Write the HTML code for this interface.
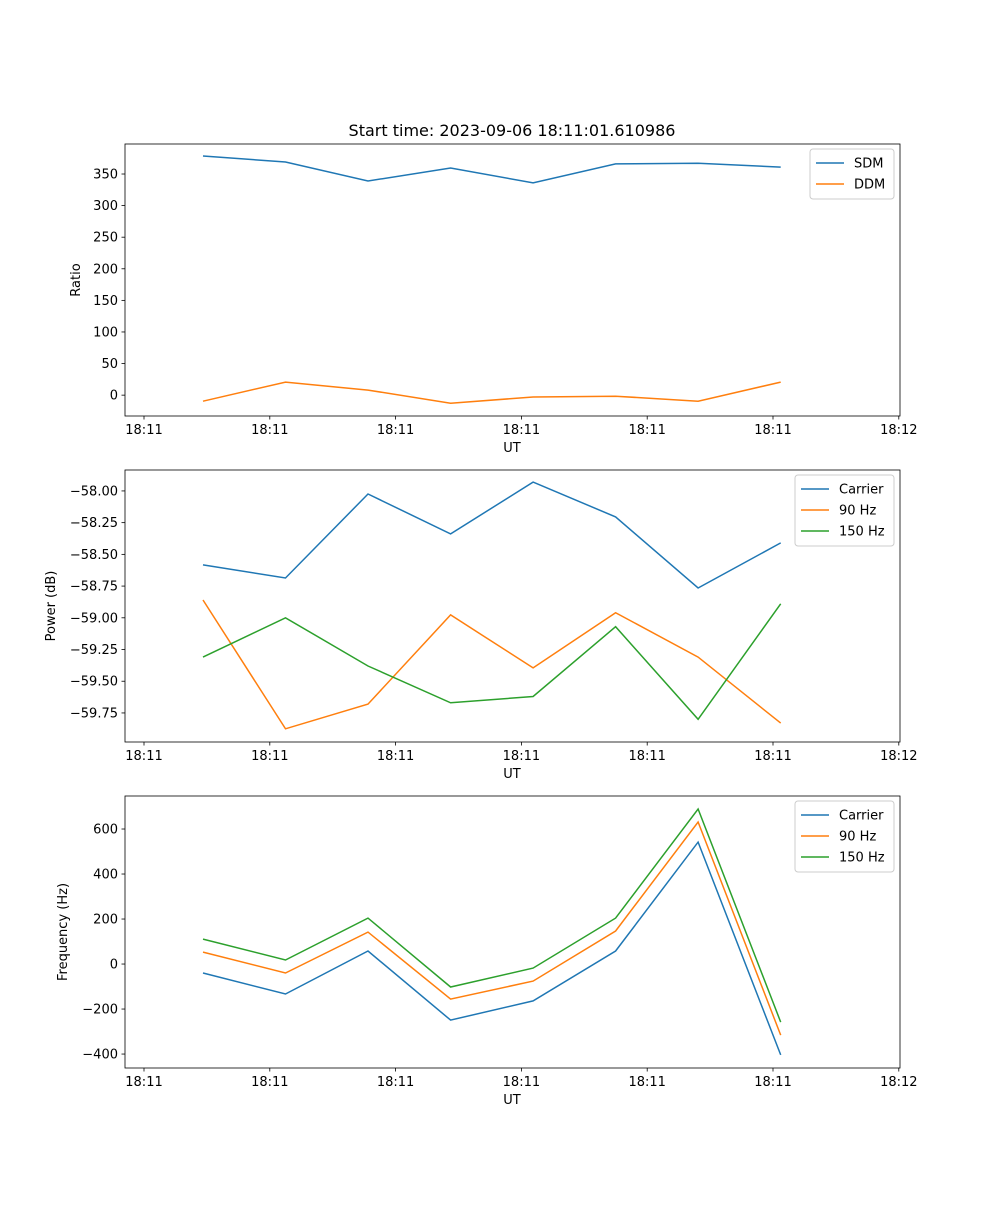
<!DOCTYPE html>
<html><head><meta charset="utf-8"><style>
body{margin:0;background:#fff;}
svg text{font-family:"DejaVu Sans","Liberation Sans",sans-serif;fill:#000;}
</style></head><body>
<svg id="fig" width="1000" height="1200" xmlns="http://www.w3.org/2000/svg"></svg>
<script>
const xTickVals=[0,10,20,30,40,50,60];
const xTickLabels=["18:11","18:11","18:11","18:11","18:11","18:11","18:12"];
const times=[4.69,11.25,17.81,24.37,30.93,37.49,44.05,50.61];
const sdm=[378.5,369,339,359.5,336,366,367,361];
const ddm=[-9.5,20.6,8,-12.7,-3,-1.6,-9.5,20.6];
const powCarrier=[-58.583,-58.686,-58.024,-58.339,-57.93,-58.205,-58.765,-58.41];
const pow90=[-58.86,-59.875,-59.68,-58.977,-59.395,-58.96,-59.31,-59.83];
const pow150=[-59.31,-59.0,-59.38,-59.67,-59.62,-59.07,-59.8,-58.89];
const freqCarrier=[-40,-133,58,-249,-164,58,542,-404];
const freq90=[53,-40,142,-156,-76,147,631,-316];
const freq150=[111,18,204,-102,-18,204,689,-258];
const ticks1=[0,50,100,150,200,250,300,350];
const ticks2=[-58.0,-58.25,-58.5,-58.75,-59.0,-59.25,-59.5,-59.75];
const ticks3=[-400,-200,0,200,400,600];
const C=["#1f77b4","#ff7f0e","#2ca02c"];
const svg=document.getElementById('fig');
const NS="http://www.w3.org/2000/svg";
function mk(tag,attrs,parent){const e=document.createElementNS(NS,tag);for(const k in attrs)e.setAttribute(k,attrs[k]);(parent||svg).appendChild(e);return e;}
const X0=125,X1=900;
function xs(t){return 144+(t/10)*125.8;}
function panel(name,top,bot,ymin,ymax,yt,yfmt,ylabel,series,labels,legW){
  const g=mk('g',{});
  
  
  const ys=v=>bot-(v-ymin)/(ymax-ymin)*(bot-top);
  series.forEach((s,i)=>{
    const pts=s.map((v,j)=>xs(times[j]).toFixed(1)+','+ys(v).toFixed(1)).join(' ');
    const p=mk('polyline',{points:pts,fill:'none',stroke:C[i],'stroke-width':1.5},g);
    
    
  });
  mk('rect',{x:X0,y:top,width:X1-X0,height:bot-top,fill:'none',stroke:'#000','stroke-width':0.8},g);
  xTickVals.forEach((v,i)=>{const x=xs(v);
    mk('line',{x1:x,x2:x,y1:bot,y2:bot+3.5,stroke:'#000','stroke-width':0.8},g);
    const t=mk('text',{x:x,y:bot+18,'text-anchor':'middle','font-size':13},g);t.textContent=xTickLabels[i];
    
    });
  yt.forEach(v=>{const y=ys(v);
    mk('line',{x1:X0-3.5,x2:X0,y1:y,y2:y,stroke:'#000','stroke-width':0.8},g);
    const t=mk('text',{x:X0-7,y:y+4.5,'text-anchor':'end','font-size':13},g);t.textContent=yfmt(v);
    
    });
  const xl=mk('text',{x:512,y:bot+36,'text-anchor':'middle','font-size':13},g);xl.textContent='UT';
  
  
  const cy=(top+bot)/2;
  const yl=mk('text',{x:0,y:0,'text-anchor':'middle','font-size':13,transform:`translate(${name==='ratio-panel'?80:name==='power-panel'?55:67},${cy}) rotate(-90)`},g);yl.textContent=ylabel;
  
  
  const lx=X1-6-legW, ly=top+5, lh=8+21*labels.length;
  const lg=mk('g',{},g);
  
  
  mk('rect',{x:lx,y:ly,width:legW,height:lh,rx:3,fill:'#fff','fill-opacity':0.8,stroke:'#ccc'},lg);
  labels.forEach((l,i)=>{const yy=ly+14+21*i;
    mk('line',{x1:lx+6,x2:lx+34,y1:yy,y2:yy,stroke:C[i],'stroke-width':1.5},lg);
    const t=mk('text',{x:lx+44,y:yy+4.5,'font-size':13},lg);t.textContent=l;
    
    });
}
const title=mk('text',{x:512,y:136,'text-anchor':'middle','font-size':16});
title.textContent='Start time: 2023-09-06 18:11:01.610986';


panel('ratio-panel',144,416,-33,397.5,ticks1,v=>String(v),'Ratio',[sdm,ddm],['SDM','DDM'],84);
panel('power-panel',470,742,-59.979,-57.835,ticks2,v=>'\u2212'+Math.abs(v).toFixed(2),'Power (dB)',[powCarrier,pow90,pow150],['Carrier','90 Hz','150 Hz'],99);
panel('frequency-panel',796,1068,-462,746.7,ticks3,v=>(v<0?'\u2212':'')+Math.abs(v),'Frequency (Hz)',[freqCarrier,freq90,freq150],['Carrier','90 Hz','150 Hz'],99);
</script>
</body></html>
